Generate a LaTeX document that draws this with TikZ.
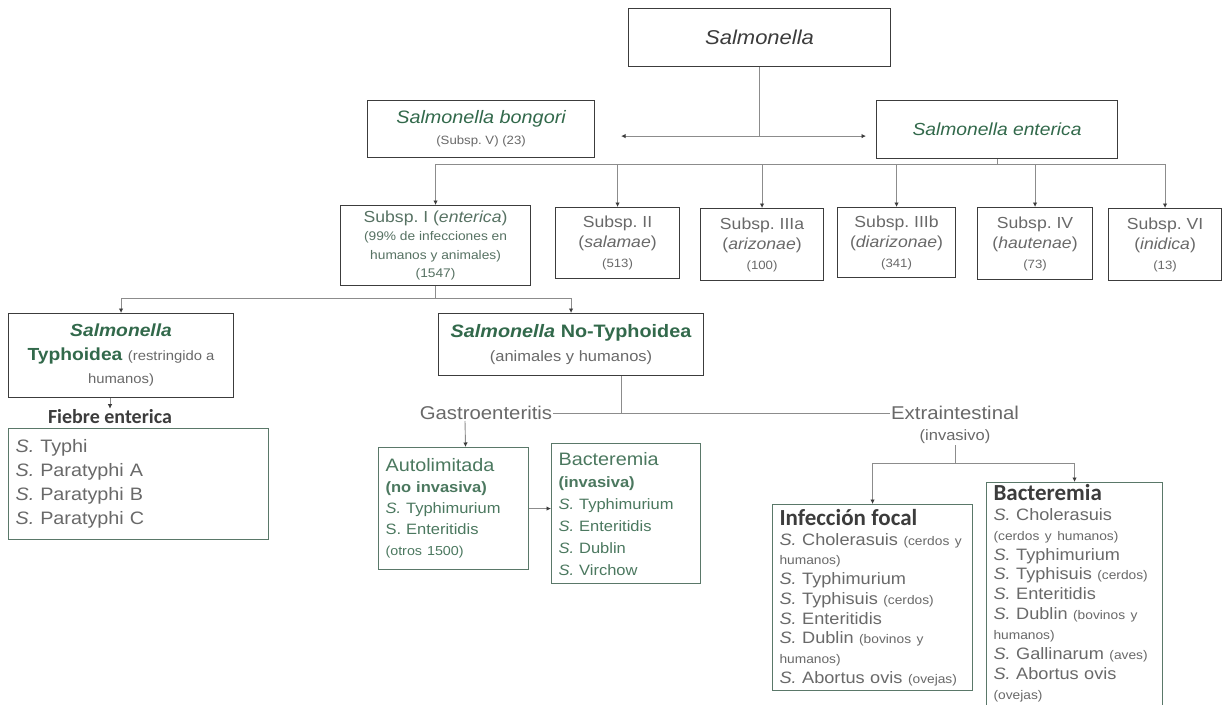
\documentclass[tikz,border=0pt]{standalone}
\usepackage{fontspec}
\setmainfont[FakeStretch=1.1]{Liberation Sans}
\newfontfamily\carlito{Carlito}
\usetikzlibrary{arrows.meta}
\definecolor{sgreen}{RGB}{50,105,75}
\definecolor{lgreen}{RGB}{75,120,95}
\definecolor{sgray}{RGB}{105,105,105}
\definecolor{dgray}{RGB}{60,60,60}
\definecolor{lnc}{RGB}{140,140,140}
\definecolor{gbrd}{RGB}{90,120,105}
\newcommand{\fs}[2]{\fontsize{#1}{#2}\selectfont}

\begin{document}
\begin{tikzpicture}[x=1pt,y=-1pt,
    box/.style={draw=dgray,line width=1.1pt,anchor=north west,align=center,inner sep=2pt},
    gbox/.style={draw=gbrd,line width=1.1pt,anchor=north west,align=left,inner xsep=7pt,inner ysep=2pt},
    conn/.style={draw=lnc,line width=0.9pt},
    arr/.style={conn,-{Latex[length=4.5pt,width=4.5pt,color=dgray]}}]
  \fill[white] (0,0) rectangle (1223,704);
  \useasboundingbox (0,0) rectangle (1223,704);
  % top levels
  \node[box,minimum width=262pt,minimum height=58pt,font=\fs{20}{22}\itshape,text=dgray] (salm) at (628,8) {Salmonella};
  \node[box,minimum width=227pt,minimum height=57pt,font=\fs{18}{21}] (bong) at (367,100) {{\color{sgreen}\itshape Salmonella bongori}\\ {\fs{12}{21}\color{sgray}(Subsp.\ V) (23)}};
  \node[box,minimum width=241pt,minimum height=58pt,font=\fs{17.5}{20}\itshape,text=sgreen] (ent) at (876,100) {Salmonella enterica};
  % subspecies
  \node[box,minimum width=190pt,minimum height=80pt,font=\fs{16}{18.3},text=lgreen!60!sgray] (sI) at (340,205) {Subsp.\ I (\textit{enterica})\\ {\fs{12.5}{18.3}(99\% de infecciones en}\\ {\fs{12.5}{18.3}humanos y animales)}\\ {\fs{12.5}{18.3}(1547)}};
  \node[box,minimum width=124pt,minimum height=71pt,font=\fs{16}{20},text=sgray] (sII) at (555,207) {Subsp.\ II\\ (\textit{salamae})\\ {\fs{12}{20}(513)}};
  \node[box,minimum width=123pt,minimum height=72pt,font=\fs{16}{20},text=sgray] (sIIIa) at (700,208) {Subsp.\ IIIa\\ (\textit{arizonae})\\ {\fs{12}{20}(100)}};
  \node[box,minimum width=118pt,minimum height=70pt,font=\fs{16}{20},text=sgray] (sIIIb) at (837,207) {Subsp.\ IIIb\\ (\textit{diarizonae})\\ {\fs{12}{20}(341)}};
  \node[box,minimum width=115pt,minimum height=72pt,font=\fs{16}{20},text=sgray] (sIV) at (977,207) {Subsp.\ IV\\ (\textit{hautenae})\\ {\fs{12}{20}(73)}};
  \node[box,minimum width=113pt,minimum height=72pt,font=\fs{16}{20},text=sgray] (sVI) at (1108,208) {Subsp.\ VI\\ (\textit{inidica})\\ {\fs{12}{20}(13)}};
  % typhoidea
  \node[box,minimum width=225pt,minimum height=84pt,font=\fs{17.5}{23.5},text=sgreen] (typh) at (8,313) {\textbf{\textit{Salmonella}}\\ \textbf{Typhoidea} {\fs{13.5}{23.5}\color{sgray}(restringido a}\\ {\fs{13.5}{23.5}\color{sgray}humanos)}};
  \node[font=\carlito\bfseries\fs{20}{22},text=dgray,inner sep=1pt] (fiebre) at (110,417) {Fiebre enterica};
  \node[gbox,text width=246pt,minimum height=111pt,font=\fs{18}{24},text=sgray] (typlist) at (8,428) {\textit{S.} Typhi\\ \textit{S.} Paratyphi A\\ \textit{S.} Paratyphi B\\ \textit{S.} Paratyphi C};
  % no-typhoidea
  \node[box,minimum width=265pt,minimum height=62pt,font=\fs{18}{24},text=sgreen] (nontyph) at (438,313) {\textbf{\textit{Salmonella} No-Typhoidea}\\ {\fs{15}{24}\color{sgray}(animales y humanos)}};
  \node[font=\fs{18.5}{20},text=sgray,inner sep=1pt] (gastro) at (486,413) {Gastroenteritis};
  \node[font=\fs{18.5}{20},text=sgray,inner sep=1pt] (extra) at (955,413) {Extraintestinal};
  \node[font=\fs{15}{17},text=sgray,inner sep=1pt] (invas) at (955,437) {(invasivo)};
  \node[gbox,text width=136pt,minimum height=122pt,font=\fs{15}{21},text=lgreen] (auto) at (378,447) {{\fs{18}{21}Autolimitada}\\ \textbf{(no invasiva)}\\ \textit{S.} Typhimurium\\ S. Enteritidis\\ {\fs{13}{21}(otros 1500)}};
  \node[gbox,text width=135pt,minimum height=140pt,font=\fs{15}{22},text=lgreen] (bact1) at (551,443) {{\fs{18}{22}Bacteremia}\\ \textbf{(invasiva)}\\ \textit{S.} Typhimurium\\ \textit{S.} Enteritidis\\ \textit{S.} Dublin\\ \textit{S.} Virchow};
  \node[gbox,text width=186pt,minimum height=186pt,font=\fs{16.5}{19.75},text=sgray] (focal) at (772,504) {{\carlito\bfseries\fs{23}{19.75}\color{dgray}Infección focal}\\ \textit{S.} Cholerasuis {\fs{12.5}{19.75}(cerdos y}\\ {\fs{12.5}{19.75}humanos)}\\ \textit{S.} Typhimurium\\ \textit{S.} Typhisuis {\fs{12.5}{19.75}(cerdos)}\\ \textit{S.} Enteritidis\\ \textit{S.} Dublin {\fs{12.5}{19.75}(bovinos y}\\ {\fs{12.5}{19.75}humanos)}\\ \textit{S.} Abortus ovis {\fs{12.5}{19.75}(ovejas)}};
  \node[gbox,text width=162pt,minimum height=226pt,font=\fs{16.5}{19.9},text=sgray,inner ysep=1pt] (bact2) at (986,482) {{\carlito\bfseries\fs{23}{19.9}\color{dgray}Bacteremia}\\ \textit{S.} Cholerasuis\\ {\fs{12.5}{19.9}(cerdos y humanos)}\\ \textit{S.} Typhimurium\\ \textit{S.} Typhisuis {\fs{12.5}{19.9}(cerdos)}\\ \textit{S.} Enteritidis\\ \textit{S.} Dublin {\fs{12.5}{19.9}(bovinos y}\\ {\fs{12.5}{19.9}humanos)}\\ \textit{S.} Gallinarum {\fs{12.5}{19.9}(aves)}\\ \textit{S.} Abortus ovis\\ {\fs{12.5}{19.9}(ovejas)}\vspace{5pt}};
  % connectors
  \draw[conn] (salm.south) -- ++(0,69) coordinate (tj);
  \draw[arr,shorten >=26pt] (tj) -- (tj -| bong.east);
  \draw[arr,shorten >=10pt] (tj) -- (tj -| ent.west);
  \draw[conn] (ent.south) -- ++(0,5) coordinate (sj);
  \draw[conn] (sj -| sI.north) -- (sj -| sVI.north);
  \foreach \n in {sI,sII,sIIIa,sIIIb,sIV,sVI}
    \draw[arr] (sj -| \n.north) -- (\n.north);
  \draw[arr] (sI.south) -- ++(0,12) -| (typh.north);
  \draw[arr] (sI.south) -- ++(0,12) -| (nontyph.north);
  \draw[arr] (typh.south -| fiebre.north) -- (fiebre.north);
  \draw[conn] ([xshift=50pt]nontyph.south) -- ([xshift=50pt]nontyph.south |- gastro.east);
  \draw[conn] (gastro.east) -- (extra.west);
  \draw[arr] ([xshift=-21pt]gastro.south) -- ([xshift=12pt]auto.north);
  \draw[arr] (auto.east) -- (auto.east -| bact1.west);
  \draw[arr] (invas.south) -- ++(0,18) -| (focal.north);
  \draw[arr] (invas.south) -- ++(0,18) -| (bact2.north);
\end{tikzpicture}
\end{document}
